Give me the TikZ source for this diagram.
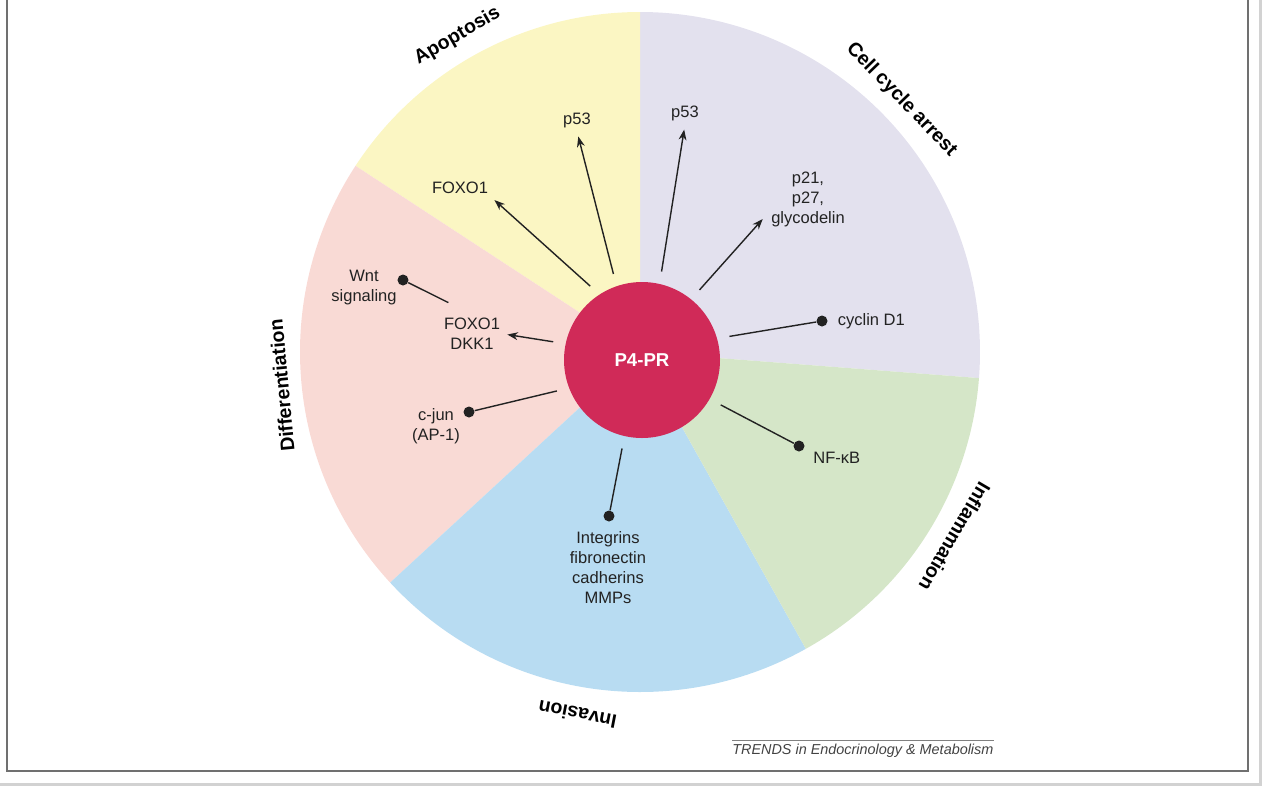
\documentclass[tikz,border=0pt]{standalone}
\usepackage{fontspec}
\setmainfont{Liberation Sans}
\usetikzlibrary{arrows.meta,positioning}
\definecolor{Apo}{HTML}{FBF6C3}
\definecolor{Cyc}{HTML}{E3E1EE}
\definecolor{Inf}{HTML}{D5E6C8}
\definecolor{Inv}{HTML}{B8DCF2}
\definecolor{Dif}{HTML}{F9DAD5}
\definecolor{Hub}{HTML}{D02A58}
\definecolor{Ink}{HTML}{222222}
\definecolor{Frame}{HTML}{707070}

\begin{document}
\begin{tikzpicture}[
  hub/.style={circle,fill=Hub,text=white,minimum size=3.12cm,inner sep=0pt,font=\fontsize{10.6}{12}\selectfont\bfseries},
  cat/.style={font=\fontsize{11.1}{13}\selectfont\bfseries,inner sep=0pt},
  txt/.style={font=\fontsize{9.4}{11.4}\selectfont,align=center,text=Ink,inner sep=2pt},
  dot/.style={circle,fill=Ink,minimum size=0.22cm,inner sep=0pt},
  link/.style={draw=Ink,line width=0.8pt},
  act/.style={link,-{Stealth[length=6pt,width=4.5pt]}}
]
\useasboundingbox (-12.8,-8.68) rectangle (12.44,7.04);
% frame
\fill[gray!35] (-12.8,-8.68) rectangle (12.44,-8.62);
\fill[gray!35] (12.38,-8.68) rectangle (12.44,7.04);
\draw[Frame,line width=1.2pt] (-12.66,7.04) -- (-12.66,-8.38) -- (12.16,-8.38) -- (12.16,7.04);

% sectors
\foreach \a/\b/\c in {-4.4/90/Cyc,90/146.8/Apo,146.8/222.7/Dif,222.7/299.2/Inv,299.2/355.6/Inf}
  \fill[\c] (0,0) -- (\a:6.8) arc[start angle=\a,end angle=\b,radius=6.8] -- cycle;

\node[cat,rotate=30] (lapo) at (120:7.3) {Apoptosis};
\node[cat,rotate=-46] (lcyc) at (44:7.27) {Cell cycle arrest};
\node[cat,rotate=-120.4] (linf) at (-30.4:7.3) {Inflammation};
\node[cat,rotate=169] (linv) at (260.2:7.36) {Invasion};
\node[cat,rotate=95.3] (ldif) at (185.3:7.2) {Differentiation};

\node[hub] (pr) at (0.04,-0.16) {P4-PR};

% targets
\node[txt] (p53a) at (-1.26,4.64) {p53};
\node[txt] (foxa) at (-3.6,3.28) {FOXO1};
\node[txt] (p53c) at (0.9,4.78) {p53};
\node[txt] (pgly) at (3.36,3.06) {p21,\\p27,\\glycodelin};
\node[dot] (cycdot) at (3.64,0.62) {};
\node[txt,right=3.5pt of cycdot] (cyc) {cyclin D1};
\node[dot] (nfdot) at (3.18,-1.88) {};
\node[txt,anchor=west] (nfkb) at (3.39,-2.12) {NF-κB};
\node[dot] (invdot) at (-0.62,-3.28) {};
\node[txt] (adh) at (-0.64,-4.32) {Integrins\\fibronectin\\cadherins\\MMPs};
\node[dot] (jundot) at (-3.42,-1.2) {};
\node[txt] (jun) at (-4.08,-1.48) {c-jun\\(AP-1)};
\node[txt] (dkk) at (-3.36,0.36) {FOXO1\\DKK1};
\node[dot] (wntdot) at (-4.74,1.44) {};
\node[txt] (wnt) at (-5.52,1.28) {Wnt\\signaling};

\draw[act,shorten <=7pt,shorten >=3pt] (pr.109) -- (p53a.south);
\draw[act,shorten <=7pt,shorten >=2pt] (pr.123) -- (foxa.south east);
\draw[act,shorten <=7pt,shorten >=3pt] (pr.77) -- (p53c.south);
\draw[act,shorten <=7pt,shorten >=4pt] (pr.51) -- (pgly.200);
\draw[link,shorten <=7pt] (pr.16) -- (cycdot);
\draw[link,shorten <=7pt] (pr.-30) -- (nfdot);
\draw[link,shorten <=7pt] (pr.257) -- (invdot);
\draw[link,shorten <=7pt] (pr.201) -- (jundot);
\draw[act,shorten <=7pt,shorten >=2pt] (pr.168) -- (dkk.east);
\draw[link,shorten <=15pt] (dkk.north) -- (wntdot);

\node[font=\fontsize{8.2}{10}\selectfont\itshape,text=Ink!85,inner sep=0pt,anchor=west] (trends) at (1.84,-7.98) {TRENDS in Endocrinology \& Metabolism};
\draw[gray,line width=0.6pt] ([yshift=2pt]trends.north west) -- ([yshift=2pt]trends.north east);
\end{tikzpicture}
\end{document}
